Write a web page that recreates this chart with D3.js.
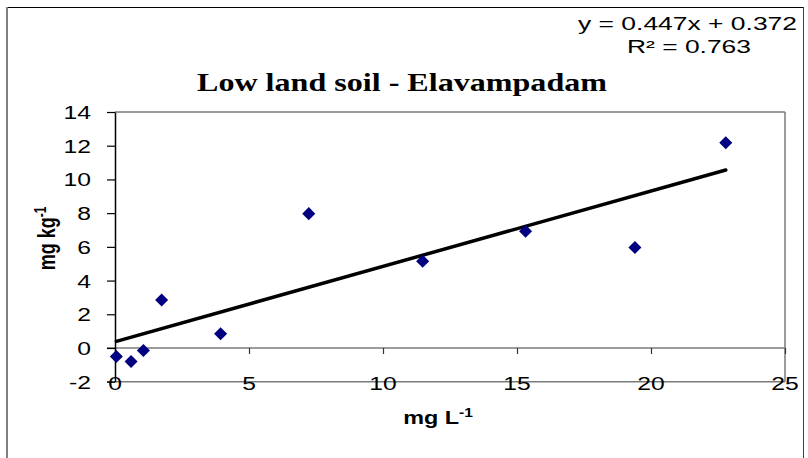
<!DOCTYPE html>
<html>
<head>
<meta charset="utf-8">
<script src="https://cdn.jsdelivr.net/npm/d3@7"></script>
<style>
  html, body { margin: 0; padding: 0; background: #fff; }
  svg { display: block; }
  text { font-family: "Liberation Sans", Arial, sans-serif; fill: #000; }
</style>
</head>
<body>
<svg id="chart" width="808" height="458"></svg>
<script>
// Measured concentrations: solution (mg L-1) vs soil (mg kg-1)
const xValues = [0.05, 0.6, 1.06, 1.74, 3.94, 7.23, 11.48, 15.32, 19.4, 22.79];
const yValues = [-0.5, -0.8, -0.15, 2.85, 0.85, 7.97, 5.14, 6.92, 5.96, 12.18];

// Linear trend line reported for the series
const slope = 0.447;
const intercept = 0.372;
const rSquared = 0.763;

const xTicks = [0, 5, 10, 15, 20, 25];
const yTicks = [-2, 0, 2, 4, 6, 8, 10, 12, 14];

const titleText = "Low land soil - Elavampadam";

const svg = d3.select("#chart");
const SX = 1.3; // horizontal glyph stretch used for all labels

const x = d3.scaleLinear().domain([0, 25]).range([115, 785]);
const y = d3.scaleLinear().domain([-2, 14]).range([381.7, 112]);

// outer chart frame
svg.append("line").attr("x1", 7).attr("x2", 803).attr("y1", 7.5).attr("y2", 7.5)
  .attr("stroke", "#000").attr("stroke-width", 1.2);
svg.append("line").attr("x1", 7).attr("x2", 7).attr("y1", 7).attr("y2", 458)
  .attr("stroke", "#808080").attr("stroke-width", 2);
svg.append("line").attr("x1", 803.5).attr("x2", 803.5).attr("y1", 7).attr("y2", 458)
  .attr("stroke", "#404040").attr("stroke-width", 1);

// plot area border (top, right, bottom)
const grey = "#7a7a7a";
svg.append("line").attr("x1", x(0)).attr("x2", x(25)).attr("y1", y(14)).attr("y2", y(14))
  .attr("stroke", grey).attr("stroke-width", 1.5);
svg.append("line").attr("x1", x(25)).attr("x2", x(25)).attr("y1", y(14)).attr("y2", y(-2))
  .attr("stroke", grey).attr("stroke-width", 1.5);
svg.append("line").attr("x1", x(0) - 8).attr("x2", x(25)).attr("y1", y(-2)).attr("y2", y(-2))
  .attr("stroke", grey).attr("stroke-width", 1.5);

// horizontal axis crossing at y = 0, ticks pointing down
const xAxis = svg.append("g")
  .attr("transform", `translate(0,${y(0)})`)
  .call(d3.axisBottom(x).tickValues(xTicks).tickSize(6).tickSizeOuter(0).tickFormat(""));
xAxis.select(".domain").attr("stroke", grey).attr("stroke-width", 1.5)
  .attr("d", `M${x(0) - 8},0H${x(25)}`);
xAxis.selectAll(".tick line").attr("stroke", "#333").attr("stroke-width", 1.2);

// vertical axis
const yAxis = svg.append("g")
  .attr("transform", `translate(${x(0)},0)`)
  .call(d3.axisLeft(y).tickValues(yTicks).tickSize(8).tickSizeOuter(0).tickFormat(""));
yAxis.select(".domain").attr("stroke", "#000").attr("stroke-width", 1.5);
yAxis.selectAll(".tick line").attr("stroke", "#000").attr("stroke-width", 1.2);

// tick labels (drawn stretched horizontally)
svg.append("g").selectAll("g").data(yTicks).join("g")
  .attr("transform", d => `translate(91,${y(d) + 7})`)
  .append("text")
  .attr("transform", `scale(${SX},1)`)
  .attr("text-anchor", "end")
  .attr("font-size", 19)
  .text(d => d);

svg.append("g").selectAll("g").data(xTicks).join("g")
  .attr("transform", d => `translate(${x(d)},${y(-2) + 8})`)
  .append("text")
  .attr("transform", `scale(${SX},1)`)
  .attr("text-anchor", "middle")
  .attr("font-size", 19)
  .text(d => d);

// trend line
const xMin = d3.min(xValues), xMax = d3.max(xValues);
svg.append("line")
  .attr("x1", x(xMin)).attr("y1", y(slope * xMin + intercept))
  .attr("x2", x(xMax)).attr("y2", y(slope * xMax + intercept))
  .attr("stroke", "#000").attr("stroke-width", 3.5).attr("stroke-linecap", "round");

// data markers: navy diamonds
const diamond = d3.symbol().type(d3.symbolSquare).size(85);
svg.append("g").selectAll("path").data(xValues.map((v, i) => [v, yValues[i]])).join("path")
  .attr("d", diamond)
  .attr("transform", d => `translate(${x(d[0])},${y(d[1])}) rotate(45)`)
  .attr("fill", "#000080");

// title
svg.append("text")
  .attr("x", 197).attr("y", 91)
  .style("font-family", "'Liberation Serif', 'Times New Roman', serif")
  .attr("font-weight", "bold")
  .attr("font-size", 25)
  .attr("textLength", 410).attr("lengthAdjust", "spacingAndGlyphs")
  .text(titleText);

// trend line equation and R²
svg.append("text")
  .attr("x", 578).attr("y", 30)
  .attr("font-size", 18)
  .attr("textLength", 219).attr("lengthAdjust", "spacingAndGlyphs")
  .text(`y = ${slope}x + ${intercept}`);
svg.append("text")
  .attr("x", 627).attr("y", 53)
  .attr("font-size", 18)
  .attr("textLength", 124).attr("lengthAdjust", "spacingAndGlyphs")
  .text(`R² = ${rSquared}`);

// x axis title
const xt = svg.append("g").attr("transform", "translate(438,424)")
  .append("text")
  .attr("transform", `scale(${SX},1)`)
  .attr("text-anchor", "middle")
  .attr("font-weight", "bold")
  .attr("font-size", 18);
xt.append("tspan").text("mg L");
xt.append("tspan").attr("font-size", 12).attr("dy", -7).text("-1");

// y axis title
const yt = svg.append("g").attr("transform", "translate(55,238.5) rotate(-90)")
  .append("text")
  .attr("transform", `scale(1,${SX})`)
  .attr("text-anchor", "middle")
  .attr("font-weight", "bold")
  .attr("font-size", 18);
yt.append("tspan").text("mg kg");
yt.append("tspan").attr("font-size", 12).attr("dy", -7).text("-1");
</script>
</body>
</html>
